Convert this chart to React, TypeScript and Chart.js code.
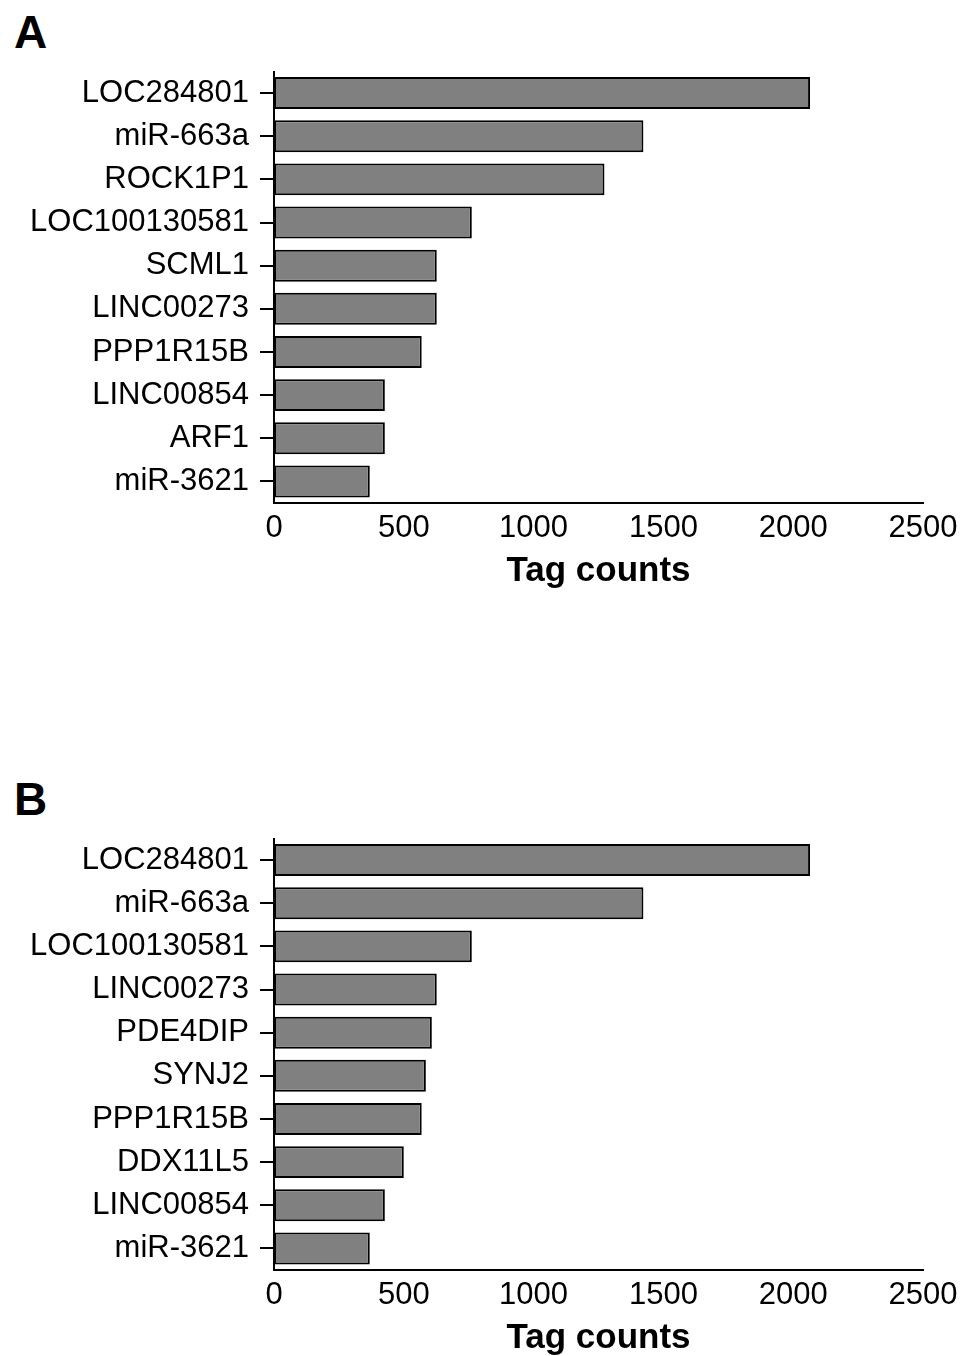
import React, { useEffect, useRef } from "react";
import { Chart, registerables } from "chart.js";

Chart.register(...registerables);

const genesA = ["LOC284801", "miR-663a", "ROCK1P1", "LOC100130581", "SCML1", "LINC00273", "PPP1R15B", "LINC00854", "ARF1", "miR-3621"];
const countsA = [2065, 1423, 1273, 762, 627, 627, 569, 427, 427, 369];

const genesB = ["LOC284801", "miR-663a", "LOC100130581", "LINC00273", "PDE4DIP", "SYNJ2", "PPP1R15B", "DDX11L5", "LINC00854", "miR-3621"];
const countsB = [2065, 1423, 762, 627, 608, 585, 569, 500, 427, 369];

const xMin = 0;
const xMax = 2500;
const xStep = 500;
const axisTitle = "Tag counts";

const FONT = "'Liberation Sans', Arial, sans-serif";

function Panel({ letter, labels, values, top }: { letter: string; labels: string[]; values: number[]; top: number }) {
  const ref = useRef<HTMLCanvasElement | null>(null);
  useEffect(() => {
    if (!ref.current) return;
    const chart = new Chart(ref.current, {
      type: "bar",
      data: {
        labels,
        datasets: [
          {
            data: values,
            backgroundColor: "#808080",
            borderColor: "#000000",
            borderWidth: 2,
            borderSkipped: false,
            barPercentage: 0.74,
            categoryPercentage: 1,
          },
        ],
      },
      options: {
        indexAxis: "y",
        responsive: false,
        animation: false,
        layout: { padding: { top: 71.5, right: 37, left: 0, bottom: 0 } },
        plugins: { legend: { display: false }, tooltip: { enabled: false } },
        scales: {
          x: {
            type: "linear",
            min: xMin,
            max: xMax,
            grid: { display: false, drawTicks: false, tickLength: 0 },
            border: { display: true, color: "#000000", width: 2 },
            ticks: {
              stepSize: xStep,
              color: "#000000",
              font: { family: FONT, size: 31 },
              padding: 7,
              maxRotation: 0,
              callback: (v: any) => String(v),
            },
            title: {
              display: true,
              text: axisTitle,
              color: "#000000",
              font: { family: FONT, size: 35, weight: "bold", lineHeight: 1 },
              padding: 0,
            },
            afterFit: (s: any) => {
              s.height = 86;
              s.paddingLeft = 0;
              s.paddingRight = 0;
            },
          },
          y: {
            type: "category",
            grid: {
              display: true,
              drawOnChartArea: false,
              drawTicks: true,
              tickLength: 14,
              color: "#000000",
              lineWidth: 2,
              offset: false,
            },
            border: { display: true, color: "#000000", width: 2 },
            ticks: {
              color: "#000000",
              font: { family: FONT, size: 31 },
              padding: 11,
              autoSkip: false,
            },
            afterFit: (s: any) => {
              s.width = 274;
              s.paddingTop = 0;
              s.paddingBottom = 0;
            },
          },
        },
      },
    } as any);
    return () => chart.destroy();
  }, [labels, values]);

  return (
    <>
      <div
        style={{
          position: "absolute",
          left: 14,
          top: top + 9,
          fontFamily: FONT,
          fontWeight: "bold",
          fontSize: 46,
          lineHeight: 1,
          color: "#000",
        }}
      >
        {letter}
      </div>
      <canvas
        ref={ref}
        width={960}
        height={589}
        style={{ position: "absolute", left: 0, top, width: 960, height: 589 }}
      />
    </>
  );
}

export default function App() {
  return (
    <div
      style={{
        position: "absolute",
        left: 0,
        top: 0,
        width: 960,
        height: 1356,
        overflow: "hidden",
        background: "#ffffff",
      }}
    >
      <Panel letter="A" labels={genesA} values={countsA} top={0} />
      <Panel letter="B" labels={genesB} values={countsB} top={767} />
    </div>
  );
}
